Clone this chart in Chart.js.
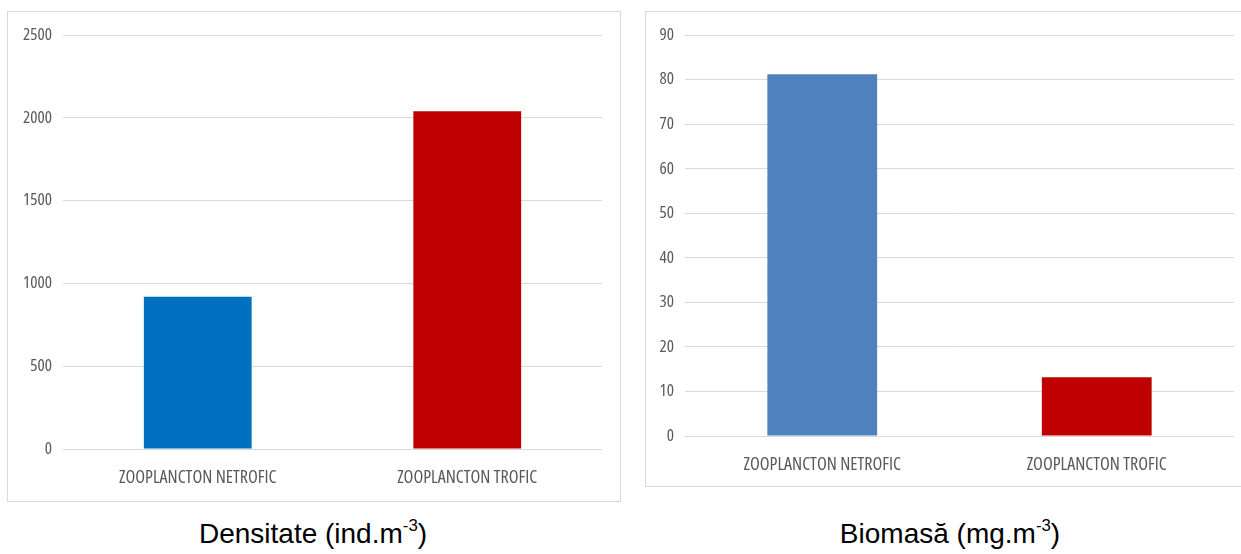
<!DOCTYPE html>
<html>
<head>
<meta charset="utf-8">
<script src="https://cdn.jsdelivr.net/npm/chart.js@4"></script>
<style>
	body { margin:0; background:#fff; width:1241px; height:554px; overflow:hidden; position:relative; }
	.box { position:absolute; border:1px solid #d9d9d9; box-sizing:border-box; background:#fff; }
	.box canvas { position:absolute; left:0; top:0; }
	.title { position:absolute; font-family:"Liberation Sans", Arial, sans-serif; font-size:28px; color:#000; white-space:nowrap; transform:translateX(-50%); }
	.title sup { font-size:0.6em; vertical-align:0.7em; line-height:0; }
</style>
</head>
<body>
<div class="box" id="box_aa" style="left:7px; top:11px; width:614px; height:491px;"><canvas id="chart_aa"></canvas></div>
<div class="box" id="box_bb" style="left:645px; top:11px; width:610px; height:476px;"><canvas id="chart_bb"></canvas></div>
<div class="title" style="left:313px; top:518px;">Densitate (ind.m<sup>-3</sup>)</div>
<div class="title" style="left:950px; top:518px;">Biomasă (mg.m<sup>-3</sup>)</div>
<script>
// ----------------------------------------------------------------------
const categories = ["ZOOPLANCTON NETROFIC", "ZOOPLANCTON TROFIC"]
const densitate = [920, 2040]
const biomasa = [81.2, 13.2]
const colors_aa = ["#0070c0", "#c00000"]
const colors_bb = ["#4f81bd", "#c00000"]

// condensed face, to look like the narrow office font
const tick_font = { family: "'Open Sans', 'DejaVu Sans Condensed', sans-serif", size: 17, weight: "condensed" }
const cat_font = { family: "'Open Sans', 'DejaVu Sans Condensed', sans-serif", size: 18, weight: "condensed" }

// ----------------------------------------------------------------------
function draw_chart (id, width, height, values, colors, y_max, y_step, axis_w, axis_h, pad)
{
	const canvas = document.getElementById(id)
	canvas.width = width
	canvas.height = height
	canvas.style.width = width + "px"
	canvas.style.height = height + "px"

	const config = {
		type: 'bar',
		data: {
			labels: categories,
			datasets: [{
				data: values,
				backgroundColor: colors,
				borderWidth: 0,
				barPercentage: 0.4,
				categoryPercentage: 1.0
				}]
			},
		options: {
			responsive: false,
			animation: false,
			devicePixelRatio: 1,
			layout: { padding: pad },
			plugins: { legend: { display: false }, tooltip: { enabled: false } },
			scales: {
				x: {
					grid: { display: false, drawTicks: false },
					border: { display: false },
					ticks: { color: "#595959", font: cat_font, padding: 18, maxRotation: 0 },
					afterFit: function (scale) { scale.height = axis_h }
					},
				y: {
					min: 0,
					max: y_max,
					grid: { color: "#d9d9d9", lineWidth: 1, drawTicks: false },
					border: { display: false },
					ticks: {
						stepSize: y_step, color: "#595959", font: tick_font, padding: 11,
						callback: function (value) { return String(value) }
						},
					afterFit: function (scale) { scale.width = axis_w }
					}
				}
			}
		}

	return new Chart(canvas, config)
}

// ----------------------------------------------------------------------
draw_chart("chart_aa", 612, 489, densitate, colors_aa, 2500, 500, 55, 52,
	{ top: 23, right: 18, left: 0, bottom: 0 })
draw_chart("chart_bb", 595, 474, biomasa, colors_bb, 90, 10, 39, 50,
	{ top: 23, right: 7, left: 0, bottom: 0 })
// ----------------------------------------------------------------------
</script>
</body>
</html>
